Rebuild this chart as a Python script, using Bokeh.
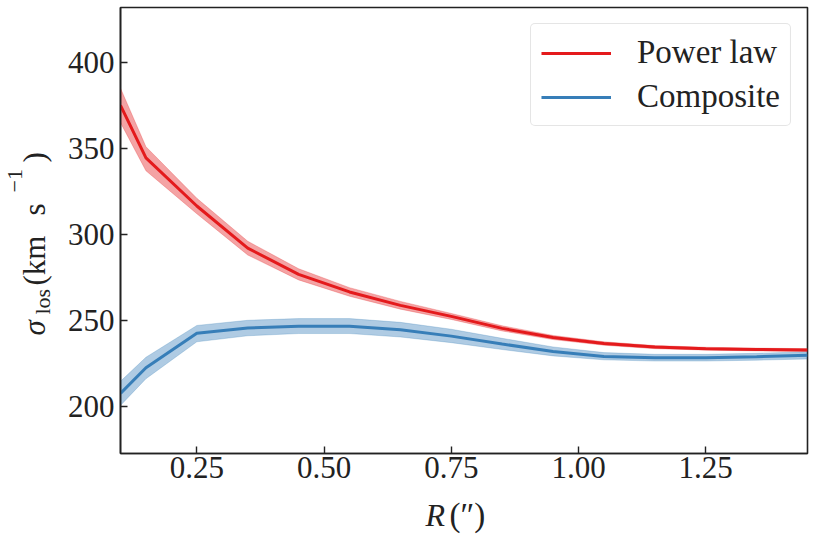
import math
from bokeh.plotting import figure
from bokeh.layouts import row, column
from bokeh.models import (Range1d, FixedTicker, Label, Legend, LegendItem,
                          CustomJSTickFormatter)
from bokeh.embed import file_html
from bokeh.resources import INLINE

# ---- data ----
radius = [0.10, 0.15, 0.25, 0.35, 0.45, 0.55, 0.65, 0.75, 0.85, 0.95, 1.05, 1.15, 1.25, 1.35, 1.45]

power_law = [375.0, 344.5, 316.5, 292.0, 276.7, 266.5, 258.7, 252.3, 245.3, 240.0, 236.5, 234.4, 233.5, 233.0, 232.7]
power_law_lo = [365.0, 337.0, 312.0, 288.0, 273.5, 264.0, 256.5, 250.5, 243.8, 238.8, 235.5, 233.5, 232.7, 232.2, 231.9]
power_law_hi = [385.0, 351.0, 321.0, 296.0, 280.0, 269.0, 261.0, 254.0, 246.8, 241.2, 237.5, 235.3, 234.3, 233.8, 233.5]

composite = [207.5, 222.4, 242.5, 245.5, 246.6, 246.6, 244.5, 240.8, 236.2, 231.8, 229.0, 228.2, 228.2, 228.8, 229.6]
composite_lo = [200.5, 216.0, 237.5, 241.0, 242.3, 242.3, 240.3, 237.0, 233.0, 229.3, 227.0, 226.3, 226.3, 226.8, 227.5]
composite_hi = [214.5, 228.5, 247.0, 250.0, 251.0, 251.0, 248.8, 244.8, 239.5, 234.5, 231.2, 230.2, 230.2, 230.8, 231.7]

x_ticks = [0.25, 0.50, 0.75, 1.00, 1.25]
y_ticks = [200, 250, 300, 350, 400]
series_names = ["Power law", "Composite"]

RED = "#e41a1c"
BLUE = "#377eb8"
INK = "#222222"
FONT = "Liberation Serif"

YLAB_W = 60
MAIN_W = 754
MAIN_H = 496
XLAB_H = 44

# ---------------- main plot ----------------
p = figure(width=MAIN_W, height=MAIN_H, output_backend="svg", toolbar_location=None,
           x_range=Range1d(0.1, 1.45), y_range=Range1d(172.5, 432.0),
           min_border_left=60, min_border_right=7, min_border_top=7, min_border_bottom=43)

p.background_fill_color = "white"
p.border_fill_color = "white"
p.grid.visible = False
p.outline_line_color = INK
p.outline_line_width = 1.6
p.outline_line_alpha = 1.0

for ax in (p.xaxis[0], p.yaxis[0]):
    ax.axis_line_color = INK
    ax.axis_line_width = 1.6
    ax.major_tick_line_color = INK
    ax.major_tick_line_width = 1.4
    ax.major_tick_in = 7
    ax.major_tick_out = 0
    ax.minor_tick_line_color = None
    ax.major_label_text_font = FONT
    ax.major_label_text_font_size = "31px"
    ax.major_label_text_color = INK
p.xaxis.major_label_standoff = 3
p.yaxis.major_label_standoff = 6

p.xaxis.ticker = FixedTicker(ticks=x_ticks)
p.yaxis.ticker = FixedTicker(ticks=y_ticks)
p.xaxis.formatter = CustomJSTickFormatter(code="return tick.toFixed(2);")
p.yaxis.formatter = CustomJSTickFormatter(code="return tick.toFixed(0);")

# uncertainty bands
p.varea(x=radius, y1=power_law_lo, y2=power_law_hi, fill_color=RED, fill_alpha=0.4)
p.line(radius, power_law_lo, line_color=RED, line_alpha=0.25, line_width=1)
p.line(radius, power_law_hi, line_color=RED, line_alpha=0.25, line_width=1)
p.varea(x=radius, y1=composite_lo, y2=composite_hi, fill_color=BLUE, fill_alpha=0.4)
p.line(radius, composite_lo, line_color=BLUE, line_alpha=0.25, line_width=1)
p.line(radius, composite_hi, line_color=BLUE, line_alpha=0.25, line_width=1)

r_red = p.line(radius, power_law, line_color=RED, line_width=3)
r_blue = p.line(radius, composite, line_color=BLUE, line_width=3)

legend = Legend(items=[LegendItem(label=series_names[0], renderers=[r_red]),
                       LegendItem(label=series_names[1], renderers=[r_blue])],
                location="top_right", margin=16, padding=10, spacing=7,
                glyph_width=70, glyph_height=32, label_height=32, label_standoff=26,
                label_text_font=FONT, label_text_font_size="33px", label_text_color=INK,
                label_text_baseline="middle",
                border_line_color="#cccccc", border_line_width=1.5,
                background_fill_color="white", background_fill_alpha=0.8)
legend.border_radius = 5
p.add_layout(legend)


def text_panel(w, h):
    f = figure(width=w, height=h, output_backend="svg", toolbar_location=None, title=None,
               x_range=Range1d(0, 1), y_range=Range1d(0, 1),
               x_axis_location=None, y_axis_location=None,
               min_border_left=0, min_border_right=0, min_border_top=0, min_border_bottom=0)
    f.grid.visible = False
    f.outline_line_color = None
    f.background_fill_color = "white"
    f.border_fill_color = "white"
    return f


common = dict(x_units="screen", y_units="screen", text_font=FONT, text_color=INK,
              text_baseline="alphabetic", text_align="left")

# ---------------- y-axis label: sigma_los (km s^-1) ----------------
ylab = text_panel(YLAB_W, MAIN_H)
rot = math.pi / 2
ylab.add_layout(Label(x=34, y=118, text="\u03c3", text_font_size="31px",
                      text_font_style="italic", angle=rot, **common))
ylab.add_layout(Label(x=42, y=139, text="los", text_font_size="22px", angle=rot, **common))
ylab.add_layout(Label(x=34, y=168, text="(km", text_font_size="31px", angle=rot, **common))
ylab.add_layout(Label(x=34, y=238, text="s", text_font_size="31px", angle=rot, **common))
ylab.add_layout(Label(x=14, y=261, text="\u22121", text_font_size="22px", angle=rot, **common))
ylab.add_layout(Label(x=34, y=291, text=")", text_font_size="31px", angle=rot, **common))

# ---------------- x-axis label: R (″) ----------------
xlab = text_panel(YLAB_W + MAIN_W, XLAB_H)
xlab.add_layout(Label(x=425, y=26, text="R", text_font_size="32px",
                      text_font_style="italic", **common))
xlab.add_layout(Label(x=449, y=26, text="(\u2033)", text_font_size="33px", **common))

layout = column(row(ylab, p, spacing=0), xlab, spacing=0)

open("out.html", "w").write(file_html(layout, INLINE))
